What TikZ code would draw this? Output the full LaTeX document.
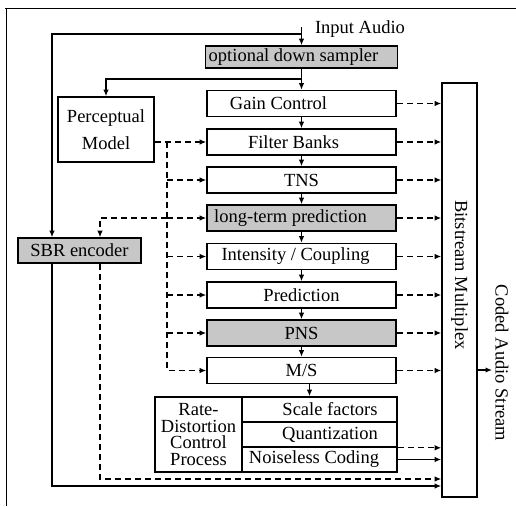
\documentclass[tikz,border=0pt]{standalone}
\usepackage{fontspec}
\setmainfont{Liberation Serif}
\usetikzlibrary{arrows.meta,calc}
\begin{document}
\begin{tikzpicture}[x=1pt,y=-1pt,
 font=\fontsize{18.5}{20}\selectfont,
 box/.style={draw,line width=1.6pt,minimum height=26pt,minimum width=189pt,inner sep=0pt},
 cell/.style={draw,line width=1.6pt,minimum height=25pt,minimum width=155pt,inner sep=0pt},
 shade/.style={fill=black!22},
 arr/.style={line width=1.2pt,-{Latex[length=6.5pt,width=5.5pt]}},
 darr/.style={line width=1.2pt,dash pattern=on 6pt off 4pt,-{Latex[length=6.5pt,width=5.5pt]}},
 frame/.style={line width=0.9pt},
]
\useasboundingbox (0,0) rectangle (516,506);
% outer frame
\draw[frame] (5,8) -- (516,8);
\draw[frame] (6,8) -- (6,506);

% main column
\node[box,shade,minimum width=192pt,minimum height=22pt] (ds) at (301.5,57) {optional down sampler\hspace*{16pt}};
\node[box] (gain) at (301.5,103.5) {Gain Control\hspace*{46pt}};
\node[box] (fb) at (301.5,142) {Filter Banks\hspace*{16pt}};
\node[box] (tns) at (301.5,180) {TNS};
\node[box,shade] (ltp) at (301.5,218) {long-term prediction\hspace*{22pt}};
\node[box] (int) at (301.5,256.5) {Intensity / Coupling\hspace*{12pt}};
\node[box] (pred) at (301.5,295) {Prediction};
\node[box,shade] (pns) at (301.5,333) {PNS};
\node[box] (ms) at (301.5,370.5) {M/S};

% side blocks
\node[box,minimum width=96pt,minimum height=65pt,align=center,font=\fontsize{18.5}{27}\selectfont] (pm) at (106,129.5) {Perceptual\\Model};
\node[box,shade,minimum width=123pt,minimum height=25pt] (sbr) at (79.5,250.5) {SBR encoder};

% rate-distortion block
\node[box,minimum width=87pt,minimum height=75pt,align=center,font=\fontsize{18.5}{16.7}\selectfont] (rd) at (198.5,434.5) {Rate-\\Distortion\\Control\\Process};
\node[cell] (sf) at (319.5,409.5) {\hspace*{21pt}Scale factors};
\node[cell] (qz) at (319.5,434.5) {\hspace*{21pt}Quantization};
\node[cell] (nc) at (319.5,459.5) {Noiseless Coding\hspace*{11pt}};

% multiplex
\node[draw,line width=1.6pt,minimum width=35pt,minimum height=414pt,inner sep=0pt] (mux) at (459.5,290) {};
\node[rotate=-90] (muxt) at (459.5,275) {Bitstream Multiplex};
\node[rotate=-90] (cas) at (502,363) {Coded Audio Stream};
\node (ia) at (360,29) {Input Audio};

% helper coordinates
\coordinate (in) at (301.5,27);
\coordinate (sp) at (301.5,34);
\coordinate (b1) at (301.5,79);
\coordinate (lx) at (52,0);
\coordinate (vx) at (167,0);
\coordinate (sx) at (100,0);
\coordinate (yd) at (0,479);
\coordinate (ys) at (0,486);
\coordinate (oute) at (492,370);

% solid flow
\draw[arr] (in) -- (ds.north);
\draw[arr] (sp) -| (lx |- sbr.north);
\draw[arr] (ds.south) -- (gain.north);
\draw[arr] (b1) -| (pm.north);
\foreach \a/\b in {gain/fb,fb/tns,tns/ltp,ltp/int,int/pred,pred/pns,pns/ms}
  \draw[arr] (\a.south) -- (\b.north);
\draw[arr] ([xshift=8pt]ms.south) -- ([xshift=8pt]ms.south |- sf.north);

% perceptual model control (dashed)
\draw[darr] (pm.east |- fb.west) -- (fb.west);
\draw[darr] (vx |- fb.west) -- (vx |- ms.west) -- (ms.west);
\foreach \n in {tns,ltp,int,pred,pns}
  \draw[darr] (vx |- \n.west) -- (\n.west);
\draw[darr] (vx |- ltp.west) -| (sx |- sbr.north);

% to multiplex
\foreach \n in {gain,fb,tns,ltp,int,pred,pns,ms}
  \draw[darr] (\n.east) -- (\n.east -| mux.west);
\draw[darr] (qz.south east) -- (qz.south east -| mux.west);
\draw[arr] (nc.east) -- (nc.east -| mux.west);
\draw[darr] (sx |- sbr.south) -- (sx |- yd) -- (yd -| mux.west);
\draw[arr] (lx |- sbr.south) -- (lx |- ys) -- (ys -| mux.west);
\draw[arr] (mux.east |- oute) -- (oute);
\end{tikzpicture}
\end{document}
